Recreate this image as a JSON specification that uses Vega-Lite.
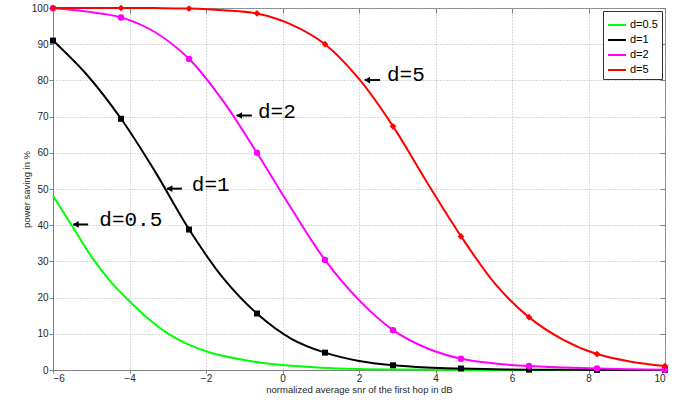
{
  "$schema": "https://vega.github.io/schema/vega-lite/v6.json",
  "width": 612,
  "height": 362,
  "autosize": {"type": "none"},
  "padding": {"left": 53, "top": 8, "right": 11, "bottom": 32},
  "background": "white",
  "config": {
    "font": "Liberation Sans",
    "view": {"stroke": "#7f7f7f", "strokeWidth": 1},
    "axis": {
      "domainColor": "#7f7f7f",
      "tickColor": "#7f7f7f",
      "labelColor": "#262626",
      "labelFontSize": 10,
      "labelFont": "Liberation Sans",
      "titleFont": "Liberation Sans",
      "titleFontSize": 9.5,
      "titleColor": "#262626",
      "titleFontWeight": "normal",
      "gridColor": "#b5b5b5",
      "gridDash": [1, 2],
      "gridWidth": 1,
      "tickSize": 4,
      "labelPadding": 1
    },
    "axisX": {"tickSize": 3, "labelPadding": 0, "titlePadding": 1},
    "axisY": {"titlePadding": 0},
    "legend": {
      "orient": "top-right", "offset": 3, "padding": 4,
      "strokeColor": "#333333", "fillColor": "white",
      "symbolType": "stroke", "symbolSize": 324, "symbolStrokeWidth": 2,
      "labelFontSize": 11, "labelColor": "black", "labelOffset": 3,
      "rowPadding": 0
    }
  },
  "datasets": {
    "curves": [
      {"s": "d=0.5", "x": -6, "y": 48.1},
      {"s": "d=0.5", "x": -5.5, "y": 39.8},
      {"s": "d=0.5", "x": -5, "y": 31.4},
      {"s": "d=0.5", "x": -4.5, "y": 24.5},
      {"s": "d=0.5", "x": -4, "y": 19},
      {"s": "d=0.5", "x": -3.5, "y": 14.1},
      {"s": "d=0.5", "x": -3, "y": 10.1},
      {"s": "d=0.5", "x": -2.5, "y": 7.2},
      {"s": "d=0.5", "x": -2, "y": 5.2},
      {"s": "d=0.5", "x": -1.5, "y": 3.8},
      {"s": "d=0.5", "x": -1, "y": 2.75},
      {"s": "d=0.5", "x": -0.5, "y": 1.95},
      {"s": "d=0.5", "x": 0, "y": 1.35},
      {"s": "d=0.5", "x": 1, "y": 0.65},
      {"s": "d=0.5", "x": 2, "y": 0.3},
      {"s": "d=0.5", "x": 3, "y": 0.15},
      {"s": "d=0.5", "x": 4, "y": 0.07},
      {"s": "d=0.5", "x": 6, "y": 0.02},
      {"s": "d=0.5", "x": 8, "y": 0.005},
      {"s": "d=0.5", "x": 10, "y": 0},
      {"s": "d=1", "x": -6, "y": 91},
      {"s": "d=1", "x": -5.11, "y": 81.5},
      {"s": "d=1", "x": -4.22, "y": 69.4},
      {"s": "d=1", "x": -3.33, "y": 54.8},
      {"s": "d=1", "x": -2.44, "y": 38.8},
      {"s": "d=1", "x": -1.56, "y": 25.5},
      {"s": "d=1", "x": -0.67, "y": 15.6},
      {"s": "d=1", "x": 0.22, "y": 8.7},
      {"s": "d=1", "x": 1.11, "y": 4.8},
      {"s": "d=1", "x": 2, "y": 2.5},
      {"s": "d=1", "x": 2.89, "y": 1.3},
      {"s": "d=1", "x": 3.78, "y": 0.7},
      {"s": "d=1", "x": 4.67, "y": 0.4},
      {"s": "d=1", "x": 5.56, "y": 0.2},
      {"s": "d=1", "x": 6.44, "y": 0.1},
      {"s": "d=1", "x": 8.22, "y": 0.03},
      {"s": "d=1", "x": 10, "y": 0.01},
      {"s": "d=2", "x": -6, "y": 99.9},
      {"s": "d=2", "x": -5.11, "y": 99},
      {"s": "d=2", "x": -4.22, "y": 97.4},
      {"s": "d=2", "x": -3.33, "y": 93.3},
      {"s": "d=2", "x": -2.44, "y": 85.9},
      {"s": "d=2", "x": -1.56, "y": 74.4},
      {"s": "d=2", "x": -0.67, "y": 60},
      {"s": "d=2", "x": 0.22, "y": 44.8},
      {"s": "d=2", "x": 1.11, "y": 30.4},
      {"s": "d=2", "x": 2, "y": 19.3},
      {"s": "d=2", "x": 2.89, "y": 11},
      {"s": "d=2", "x": 3.78, "y": 6},
      {"s": "d=2", "x": 4.67, "y": 3.1},
      {"s": "d=2", "x": 5.56, "y": 1.8},
      {"s": "d=2", "x": 6.44, "y": 1.1},
      {"s": "d=2", "x": 7.33, "y": 0.7},
      {"s": "d=2", "x": 8.22, "y": 0.4},
      {"s": "d=2", "x": 9.11, "y": 0.22},
      {"s": "d=2", "x": 10, "y": 0.1},
      {"s": "d=5", "x": -6, "y": 100},
      {"s": "d=5", "x": -5.11, "y": 100},
      {"s": "d=5", "x": -4.22, "y": 100},
      {"s": "d=5", "x": -3.33, "y": 99.97},
      {"s": "d=5", "x": -2.44, "y": 99.85},
      {"s": "d=5", "x": -1.56, "y": 99.4},
      {"s": "d=5", "x": -0.67, "y": 98.5},
      {"s": "d=5", "x": 0.22, "y": 95.5},
      {"s": "d=5", "x": 1.11, "y": 90},
      {"s": "d=5", "x": 2, "y": 80.4},
      {"s": "d=5", "x": 2.89, "y": 67.3},
      {"s": "d=5", "x": 3.78, "y": 51.8},
      {"s": "d=5", "x": 4.67, "y": 36.9},
      {"s": "d=5", "x": 5.56, "y": 23.8},
      {"s": "d=5", "x": 6.44, "y": 14.6},
      {"s": "d=5", "x": 7.33, "y": 8.4},
      {"s": "d=5", "x": 8.22, "y": 4.4},
      {"s": "d=5", "x": 9.11, "y": 2.3},
      {"s": "d=5", "x": 10, "y": 1.1}
    ],
    "markers": [
      {"s": "d=1", "x": -6, "y": 91},
      {"s": "d=1", "x": -4.222, "y": 69.4},
      {"s": "d=1", "x": -2.444, "y": 38.8},
      {"s": "d=1", "x": -0.667, "y": 15.6},
      {"s": "d=1", "x": 1.111, "y": 4.8},
      {"s": "d=1", "x": 2.889, "y": 1.3},
      {"s": "d=1", "x": 4.667, "y": 0.4},
      {"s": "d=1", "x": 6.444, "y": 0.1},
      {"s": "d=1", "x": 8.222, "y": 0.03},
      {"s": "d=1", "x": 10, "y": 0.01},
      {"s": "d=2", "x": -6, "y": 99.9},
      {"s": "d=2", "x": -4.222, "y": 97.4},
      {"s": "d=2", "x": -2.444, "y": 85.9},
      {"s": "d=2", "x": -0.667, "y": 60},
      {"s": "d=2", "x": 1.111, "y": 30.4},
      {"s": "d=2", "x": 2.889, "y": 11},
      {"s": "d=2", "x": 4.667, "y": 3.1},
      {"s": "d=2", "x": 6.444, "y": 1.1},
      {"s": "d=2", "x": 8.222, "y": 0.4},
      {"s": "d=2", "x": 10, "y": 0.1},
      {"s": "d=5", "x": -6, "y": 100},
      {"s": "d=5", "x": -4.222, "y": 100},
      {"s": "d=5", "x": -2.444, "y": 99.85},
      {"s": "d=5", "x": -0.667, "y": 98.5},
      {"s": "d=5", "x": 1.111, "y": 90},
      {"s": "d=5", "x": 2.889, "y": 67.3},
      {"s": "d=5", "x": 4.667, "y": 36.9},
      {"s": "d=5", "x": 6.444, "y": 14.6},
      {"s": "d=5", "x": 8.222, "y": 4.4},
      {"s": "d=5", "x": 10, "y": 1.1}
    ],
    "notes": [
      {"label": "d=0.5", "tip": -5.47, "tail": -5.08, "ay": 40.2, "tx": -4.79, "ty": 41.5},
      {"label": "d=1", "tip": -3.02, "tail": -2.63, "ay": 50.1, "tx": -2.37, "ty": 51.2},
      {"label": "d=2", "tip": -1.2, "tail": -0.8, "ay": 70.3, "tx": -0.64, "ty": 71.3},
      {"label": "d=5", "tip": 2.15, "tail": 2.55, "ay": 80.1, "tx": 2.73, "ty": 81.5}
    ]
  },
  "resolve": {
    "axis": {"x": "independent", "y": "independent"}
  },
  "layer": [
    {
      "data": {"name": "curves"},
      "mark": {"type": "line", "interpolate": "catmull-rom", "strokeWidth": 2},
      "encoding": {
        "x": {
          "field": "x", "type": "quantitative",
          "scale": {"domain": [-6, 10], "nice": false, "zero": false},
          "axis": {"orient": "bottom", "values": [-6, -4, -2, 0, 2, 4, 6, 8, 10], "title": "normalized average snr of the first hop in dB", "grid": true}
        },
        "y": {
          "field": "y", "type": "quantitative",
          "scale": {"domain": [0, 100], "nice": false},
          "axis": {"orient": "left", "values": [0, 10, 20, 30, 40, 50, 60, 70, 80, 90, 100], "title": "power saving in %", "grid": true}
        },
        "color": {
          "field": "s", "type": "nominal",
          "scale": {"domain": ["d=0.5", "d=1", "d=2", "d=5"], "range": ["#00ff00", "#000000", "#ff00ff", "#ff0000"]},
          "legend": {"title": null}
        }
      }
    },
    {
      "data": {"name": "markers"},
      "transform": [{"filter": "datum.s === 'd=1'"}],
      "mark": {"type": "point", "shape": "square", "filled": true, "opacity": 1, "size": 36, "color": "#000000"},
      "encoding": {
        "x": {"field": "x", "type": "quantitative", "axis": null},
        "y": {"field": "y", "type": "quantitative", "axis": null}
      }
    },
    {
      "data": {"name": "markers"},
      "transform": [{"filter": "datum.s === 'd=2'"}],
      "mark": {"type": "point", "shape": "circle", "filled": true, "opacity": 1, "size": 42, "color": "#ff00ff"},
      "encoding": {
        "x": {"field": "x", "type": "quantitative", "axis": null},
        "y": {"field": "y", "type": "quantitative", "axis": null}
      }
    },
    {
      "data": {"name": "markers"},
      "transform": [{"filter": "datum.s === 'd=5'"}],
      "mark": {"type": "point", "shape": "diamond", "filled": true, "opacity": 1, "size": 45, "color": "#ff0000"},
      "encoding": {
        "x": {"field": "x", "type": "quantitative", "axis": null},
        "y": {"field": "y", "type": "quantitative", "axis": null}
      }
    },
    {
      "data": {"name": "notes"},
      "mark": {"type": "rule", "strokeWidth": 2, "color": "black"},
      "encoding": {
        "x": {"field": "tip", "type": "quantitative", "axis": null},
        "x2": {"field": "tail"},
        "y": {"field": "ay", "type": "quantitative", "axis": null}
      }
    },
    {
      "data": {"name": "notes"},
      "mark": {"type": "point", "shape": "triangle-left", "filled": true, "color": "black", "opacity": 1, "size": 45, "xOffset": 2.5},
      "encoding": {
        "x": {"field": "tip", "type": "quantitative", "axis": null},
        "y": {"field": "ay", "type": "quantitative", "axis": null}
      }
    },
    {
      "data": {"name": "notes"},
      "mark": {"type": "text", "font": "Liberation Mono", "fontSize": 21, "align": "left", "baseline": "middle", "color": "black"},
      "encoding": {
        "x": {"field": "tx", "type": "quantitative", "axis": null},
        "y": {"field": "ty", "type": "quantitative", "axis": null},
        "text": {"field": "label"}
      }
    },
    {
      "data": {"name": "markers"},
      "mark": {"type": "point", "opacity": 0},
      "encoding": {
        "x": {"field": "x", "type": "quantitative", "axis": {"orient": "top", "values": [-6, -4, -2, 0, 2, 4, 6, 8, 10], "labels": false, "grid": false, "domain": false, "tickSize": -5, "title": null}},
        "y": {"field": "y", "type": "quantitative", "axis": {"orient": "right", "values": [0, 10, 20, 30, 40, 50, 60, 70, 80, 90, 100], "labels": false, "grid": false, "domain": false, "tickSize": -5, "title": null}}
      }
    }
  ]
}
